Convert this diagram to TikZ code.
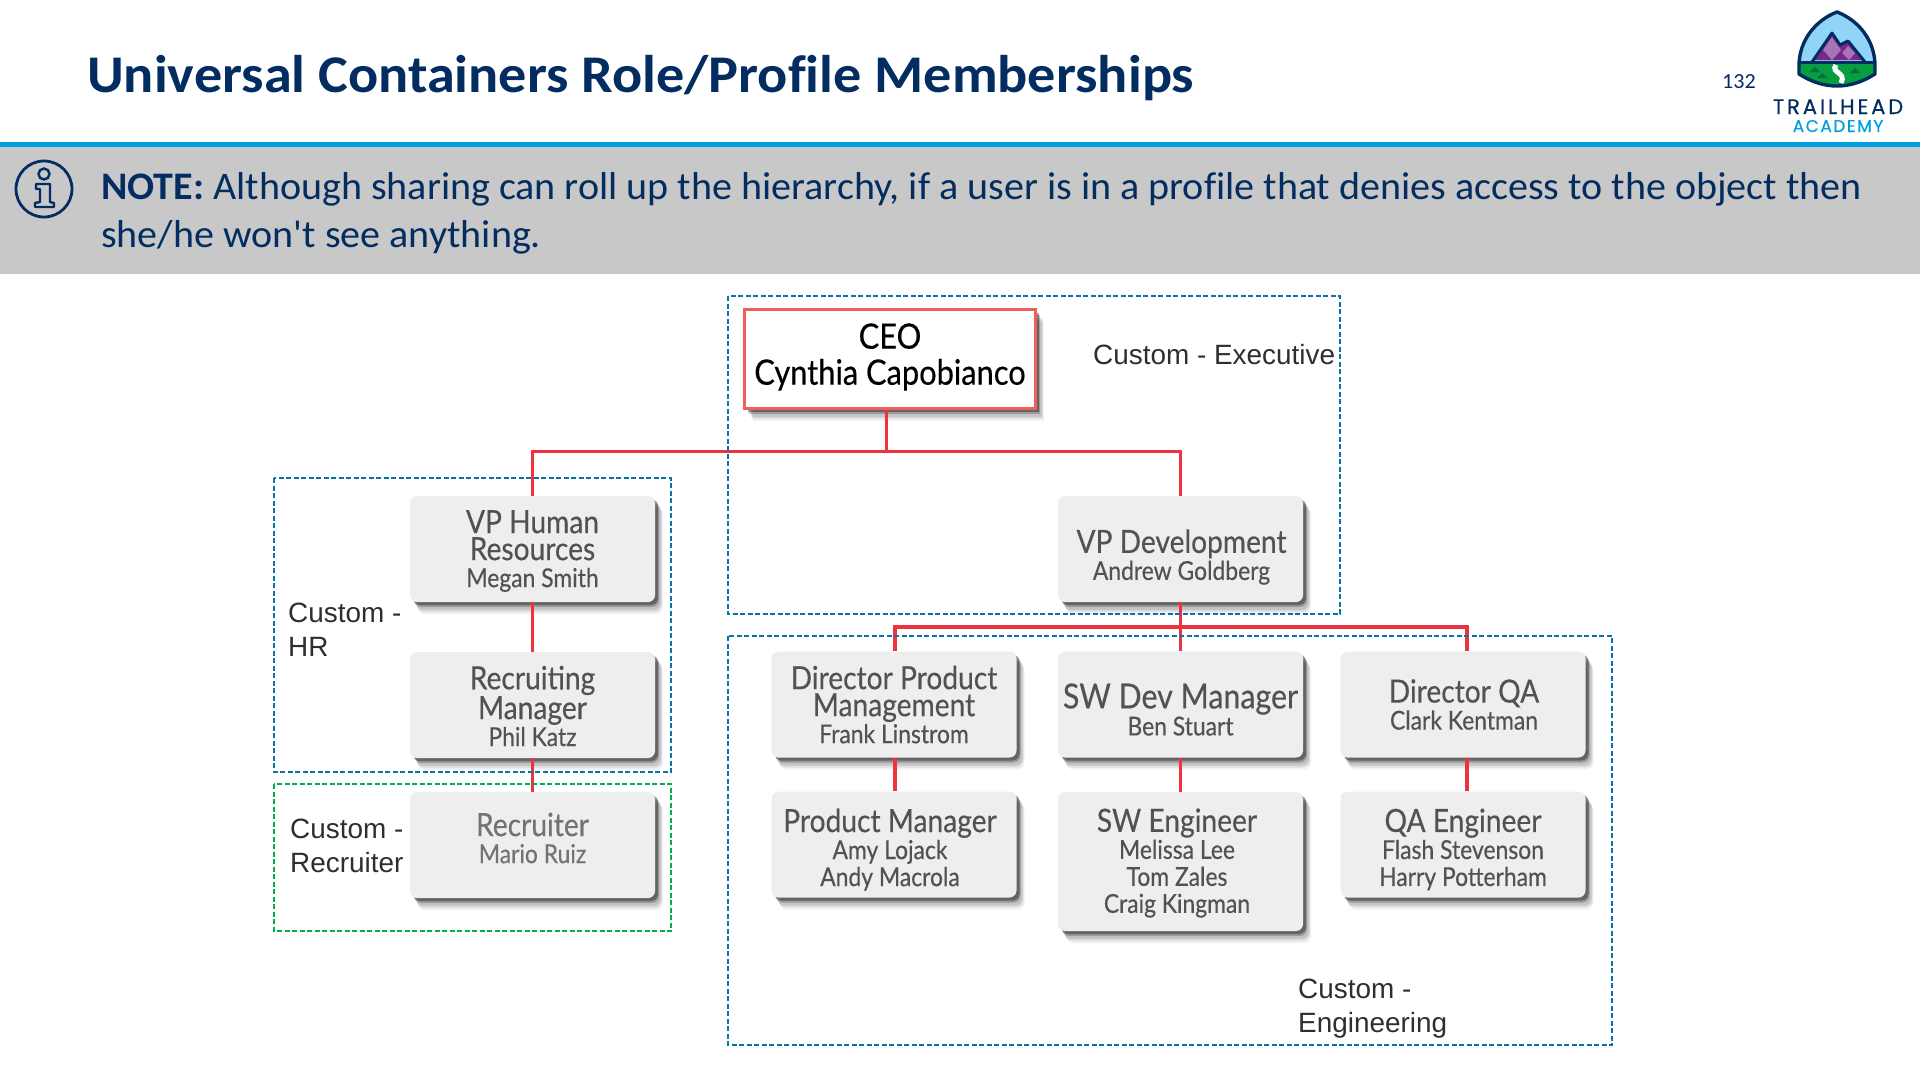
\documentclass[tikz,border=0pt]{standalone}
\usepackage{fontspec}
\setmainfont{Carlito}
\newfontfamily\titlefont[FakeStretch=1.061, Ligatures=NoCommon]{Carlito}
\newfontfamily\notefont[FakeStretch=1.027, Ligatures=NoCommon]{Carlito}
\newfontfamily\labelfont{Liberation Sans}
\newfontfamily\rolefont[FakeStretch=0.88, FakeBold=0.35]{Lato}
\newfontfamily\logofont[LetterSpace=14, FakeBold=0.5]{Poppins}
\newfontfamily\acadfont[LetterSpace=9, FakeBold=0.5]{Poppins}
\usetikzlibrary{positioning, shadows}

\definecolor{navy}{RGB}{3,45,96}
\definecolor{topline}{RGB}{0,161,224}
\definecolor{band}{RGB}{200,200,200}
\definecolor{boxgray}{RGB}{238,238,238}
\definecolor{orgred}{RGB}{238,50,62}
\definecolor{ceored}{RGB}{238,96,88}
\definecolor{groupblue}{RGB}{8,116,166}
\definecolor{groupgreen}{RGB}{0,176,80}
\definecolor{sky}{RGB}{144,212,248}
\definecolor{lilac}{RGB}{168,116,184}
\definecolor{plum}{RGB}{120,40,140}
\definecolor{grass}{RGB}{6,158,62}
\definecolor{tree}{RGB}{10,105,65}

\newcommand{\rolename}[1]{{\fontsize{26}{27}\selectfont #1}}
\newcommand{\shieldpath}{(1837,12) .. controls (1858,20) and (1875,40) .. (1875,66) -- (1875,74) .. controls (1850,90) and (1824,90) .. (1799,74) -- (1799,66) .. controls (1799,40) and (1816,20) .. (1837,12) -- cycle}

\tikzset{
    softshadow/.style={
        general shadow={shadow xshift=8pt,shadow yshift=-12pt,fill=black,opacity=.05},
        general shadow={shadow xshift=7pt,shadow yshift=-10pt,fill=black,opacity=.08},
        general shadow={shadow xshift=6pt,shadow yshift=-8pt,fill=black,opacity=.12},
        general shadow={shadow xshift=4pt,shadow yshift=-5pt,fill=black,opacity=.22},
        general shadow={shadow xshift=3pt,shadow yshift=-3pt,fill=black,opacity=.35}},
    rolebox/.style={softshadow, rounded corners=7pt, fill=boxgray,
        minimum width=245pt, minimum height=106pt, inner sep=0pt},
    ceobox/.style={rolebox, rounded corners=0pt, fill=white, draw=ceored, line width=2.5pt,
        minimum width=291pt, minimum height=99pt},
    roletext/.style={align=center, inner sep=0pt, text=black!68,
        font=\rolefont\fontsize{32}{27}\selectfont},
    orgline/.style={orgred, line width=3.5pt},
    groupbox/.style={groupblue, line width=1.8pt, dash pattern=on 5pt off 2.5pt},
    grouplabel/.style={anchor=north west, align=left, inner sep=0pt, text=black!82,
        font=\labelfont\fontsize{27.9}{34}\selectfont}
}

\begin{document}
\begin{tikzpicture}[x=1pt, y=-1pt]
    \useasboundingbox (0,0) rectangle (1920,1080);

    % header
    \node[anchor=base west, inner sep=0pt, text=navy, font=\titlefont\bfseries\fontsize{53}{60}\selectfont] (title) at (87,92) {Universal Containers Role/Profile Memberships};
    \node[anchor=base west, inner sep=0pt, text=navy, font=\notefont\fontsize{21.5}{24}\selectfont] (pagenum) at (1722,88) {132};
    \fill[band] (0,147) rectangle (1920,274);
    \fill[topline] (0,142) rectangle (1920,147);
    \node[anchor=base west, inner sep=0pt, text=navy, align=left, font=\notefont\fontsize{39}{48}\selectfont] (note) at (101,247) {\textbf{NOTE:} Although sharing can roll up the hierarchy, if a user is in a profile that denies access to the object then\\she/he won't see anything.};

    % info icon
    \draw[navy, line width=2.8pt] (44,189) circle (28);
    \draw[navy, line width=2.4pt] (44,174) circle (5.5);
    \draw[navy, line width=2.4pt, line join=round] (36,184) -- (50,184) -- (50,202) -- (54,203) -- (54,207) -- (35,207) -- (35,203) -- (40,202) -- (40,189) -- (36,189) -- cycle;

    % logo
    \begin{scope}
        \clip \shieldpath;
        \fill[sky] (1790,5) rectangle (1885,62);
        \fill[grass] (1790,62) rectangle (1885,95);
        \fill[plum] (1814,60) -- (1832,33) -- (1840,45) -- (1848,41) -- (1863,60) -- cycle;
        \fill[lilac] (1832,37) -- (1841,50) -- (1832,60) -- (1823,50) -- cycle;
        \fill[lilac] (1848,46) -- (1855,53) -- (1849,60) -- (1842,53) -- cycle;
        \draw[navy, line width=3pt, line join=round] (1812,62) -- (1832,33) -- (1840,45) -- (1848,41) -- (1865,62);
        \draw[navy, line width=3pt] (1790,62) -- (1885,62);
        \fill[tree] (1815,67) -- (1820,72) -- (1810,72) -- cycle;
        \fill[tree] (1822,73) -- (1827,78) -- (1817,78) -- cycle;
        \fill[tree] (1855,68) -- (1860,73) -- (1850,73) -- cycle;
        \draw[white, line width=5pt] (1836,65) .. controls (1830,73) and (1847,72) .. (1841,83);
    \end{scope}
    \draw[navy, line width=3.4pt, line join=round] \shieldpath;
    \node[anchor=base, inner sep=0pt, text=navy, font=\logofont\fontsize{21}{24}\selectfont] (trailhead) at (1838,114) {TRAILHEAD};
    \node[anchor=base, inner sep=0pt, text=topline, font=\acadfont\fontsize{17}{20}\selectfont] (academy) at (1838,132) {ACADEMY};

    % roles
    \node[ceobox] (ceo) at (890,359) {};
    \node[rolebox] (vphr) at (532.5,549) {};
    \node[rolebox] (recman) at (532.5,705) {};
    \node[rolebox] (recruiter) at (532.5,845) {};
    \node[rolebox] (vpdev) at (1180.5,549) {};
    \node[rolebox] (dirpm) at (894,704.5) {};
    \node[rolebox] (swdev) at (1180.5,704.5) {};
    \node[rolebox] (dirqa) at (1463,704.5) {};
    \node[rolebox] (prodman) at (894,844.5) {};
    \node[rolebox, minimum height=139pt] (sweng) at (1180.5,861.5) {};
    \node[rolebox] (qaeng) at (1463,844.5) {};

    % role texts
    \node[roletext, text=black, font=\rolefont\fontsize{35}{36}\selectfont] (ceotext) at ([shift={(0,-2)}]ceo.center) {CEO\\Cynthia Capobianco};
    \node[roletext] (vphrtext) at ([shift={(0,2)}]vphr.center) {VP Human\\Resources\\\rolename{Megan Smith}};
    \node[roletext] (recmantext) at ([shift={(0,1)}]recman.center) {Recruiting\\Manager\\\rolename{Phil Katz}};
    \node[roletext, text=black!55] (recruitertext) at ([shift={(0,-7)}]recruiter.center) {Recruiter\\\rolename{Mario Ruiz}};
    \node[roletext] (vpdevtext) at ([shift={(1,8)}]vpdev.center) {VP Development\\\rolename{Andrew Goldberg}};
    \node[roletext] (dirpmtext) at (dirpm) {Director Product\\Management\\\rolename{Frank Linstrom}};
    \node[roletext, font=\rolefont\fontsize{34.5}{27}\selectfont] (swdevtext) at ([shift={(0,5)}]swdev.center) {SW Dev Manager\\\rolename{Ben Stuart}};
    \node[roletext] (dirqatext) at ([shift={(1,0)}]dirqa.center) {Director QA\\\rolename{Clark Kentman}};
    \node[roletext] (prodmantext) at ([shift={(-4,5)}]prodman.center) {Product Manager\\\rolename{Amy Lojack}\\\rolename{Andy Macrola}};
    \node[roletext] (swengtext) at ([shift={(-3.5,1.5)}]sweng.center) {SW Engineer\\\rolename{Melissa Lee}\\\rolename{Tom Zales}\\\rolename{Craig Kingman}};
    \node[roletext] (qaengtext) at ([shift={(0,5)}]qaeng.center) {QA Engineer\\\rolename{Flash Stevenson}\\\rolename{Harry Potterham}};

    % connectors
    \draw[orgline] ([xshift=-3.5pt]ceo.south) -- ++(0,41.5) coordinate (topbus);
    \draw[orgline] (vphr.north) |- (topbus) -| (vpdev.north);
    \draw[orgline] (vphr.south) -- (recman.north);
    \draw[orgline] (recman.south) -- (recruiter.north);
    \draw[orgline] (vpdev.south) -- ++(0,25) coordinate (devbus) -- (swdev.north);
    \draw[orgline] ([xshift=1pt]dirpm.north) |- (devbus) -| ([xshift=4pt]dirqa.north);
    \draw[orgline] ([xshift=1pt]dirpm.south) -- ([xshift=1pt]prodman.north);
    \draw[orgline] (swdev.south) -- (sweng.north);
    \draw[orgline] ([xshift=4pt]dirqa.south) -- ([xshift=4pt]qaeng.north);

    % groups
    \draw[groupbox] (728,296) rectangle (1340,614);
    \draw[groupbox] (274,478) rectangle (671,772);
    \draw[groupbox, groupgreen] (274,784) rectangle (671,931);
    \draw[groupbox] (728,636) rectangle (1612,1045);
    \node[grouplabel] (execlabel) at (1093,344) {Custom - Executive};
    \node[grouplabel] (hrlabel) at (288,603) {Custom -\\HR};
    \node[grouplabel] (reclabel) at (290,819) {Custom -\\Recruiter};
    \node[grouplabel] (englabel) at (1298,979) {Custom -\\Engineering};
\end{tikzpicture}
\end{document}
